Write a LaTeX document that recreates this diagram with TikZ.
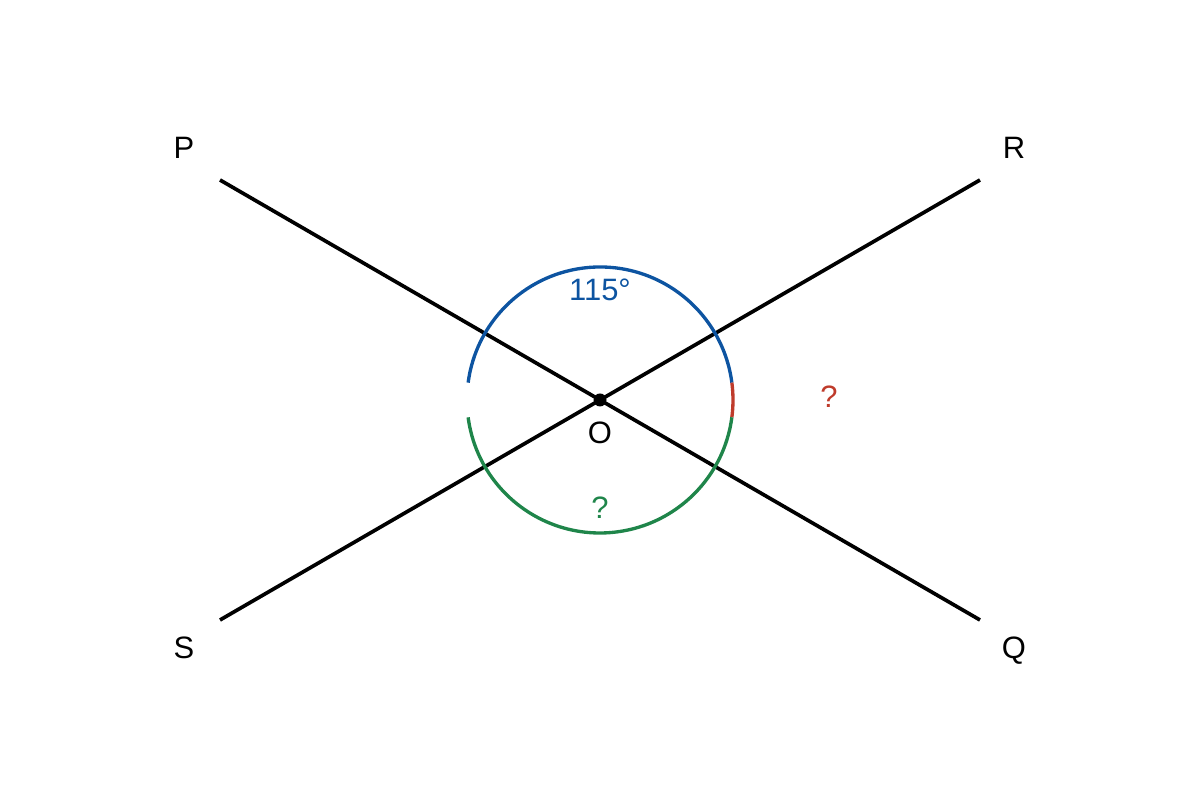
\documentclass[tikz,border=0pt]{standalone}
\usepackage{fontspec}
\setmainfont{Liberation Sans}
\usepackage{tikz}
\usetikzlibrary{positioning}
\tikzset{circ/.style = {fill, circle, inner sep = 0, minimum size = 3.7}}
\tikzset{lbl/.style = {font = \fontsize{8.8}{10}\selectfont, inner sep = 0, anchor = base}}
\definecolor{mblue}{rgb}{0.05, 0.33, 0.63}
\definecolor{mred}{rgb}{0.75, 0.23, 0.17}
\definecolor{mgreen}{rgb}{0.12, 0.52, 0.29}

\begin{document}
\begin{tikzpicture}
      \useasboundingbox (0, 0) rectangle (12, 8);
      \coordinate (O) at (6, 4);
      \coordinate (P) at (2.2, 6.2);
      \coordinate (R) at (9.8, 6.2);
      \coordinate (S) at (2.2, 1.8);
      \coordinate (Q) at (9.8, 1.8);

      \draw [line width = 1.05pt] (P) -- (Q);
      \draw [line width = 1.05pt] (S) -- (R);

      \draw [mblue, line width = 0.95pt] ([shift = {(7.5:1.33)}]O) arc [start angle = 7.5, end angle = 172.5, radius = 1.33];
      \draw [mred, line width = 0.95pt] ([shift = {(-7.5:1.33)}]O) arc [start angle = -7.5, end angle = 7.5, radius = 1.33];
      \draw [mgreen, line width = 0.95pt] ([shift = {(187.5:1.33)}]O) arc [start angle = 187.5, end angle = 352.5, radius = 1.33];

      \node [circ] (dot) at (O) {};

      \node [lbl] (labP) at (1.84, 6.41) {P};
      \node [lbl] (labR) at (10.14, 6.41) {R};
      \node [lbl] (labS) at (1.84, 1.41) {S};
      \node [lbl] (labQ) at (10.14, 1.41) {Q};
      \node [lbl] (labO) at (6, 3.56) {O};
      \node [lbl, mblue] (ang) at (6, 4.99) {115°};
      \node [lbl, mred] (qr) at (8.29, 3.92) {?};
      \node [lbl, mgreen] (qg) at (6, 2.81) {?};
    \end{tikzpicture}
\end{document}
